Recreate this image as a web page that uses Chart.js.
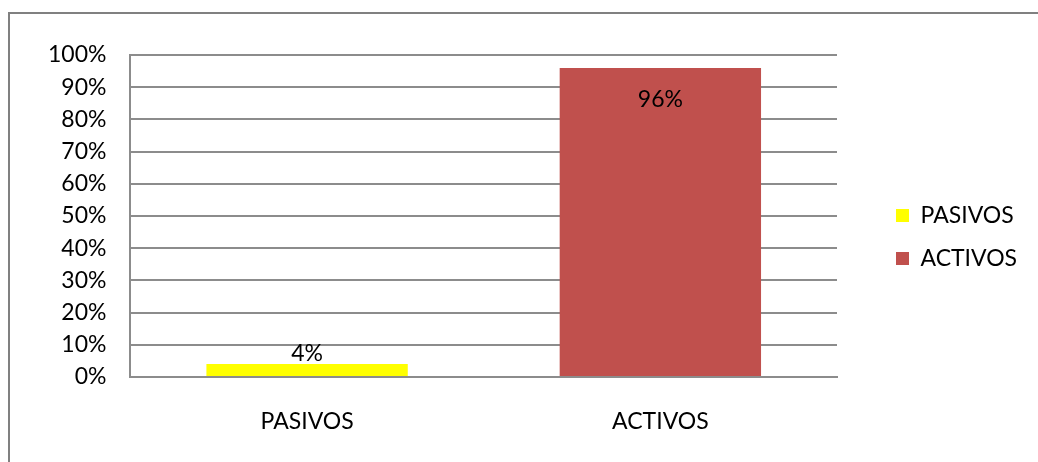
<!DOCTYPE html>
<html>
<head>
<meta charset="utf-8">
<script src="https://cdn.jsdelivr.net/npm/chart.js@4/dist/chart.umd.min.js"></script>
<style>
  html, body { margin: 0; padding: 0; background: #fff; overflow: hidden; }
  #frame {
    position: absolute; left: 8px; top: 12px; width: 1100px; height: 500px;
    border-left: 2px solid #808080; border-top: 2px solid #808080;
  }
  #wrap { position: absolute; left: 0; top: 0; width: 1038px; height: 462px; }
</style>
</head>
<body>
<div id="frame"></div>
<div id="wrap"><canvas id="chart"></canvas></div>
<script>
// Data
const categories = ["PASIVOS", "ACTIVOS"];
const percentValues = [4, 96];
const barColors = ["#FFFF00", "#C0504D"];
const yTicks = [0, 10, 20, 30, 40, 50, 60, 70, 80, 90, 100];

const FONT = { family: "Lato, 'Liberation Sans', sans-serif", size: 23 };
const gridColor = "#8c8c8c";

// Value labels: above the short bar, inside the top of the tall one
const valueLabels = {
  id: "valueLabels",
  afterDatasetsDraw(chart) {
    const ctx = chart.ctx;
    const meta = chart.getDatasetMeta(0);
    ctx.save();
    ctx.font = `${FONT.size}px ${FONT.family}`;
    ctx.fillStyle = "#000";
    ctx.textAlign = "center";
    ctx.textBaseline = "middle";
    meta.data.forEach((bar, i) => {
      const v = percentValues[i];
      const y = v > 50 ? bar.y + 32 : bar.y - 11;
      ctx.fillText(v + "%", bar.x, y);
    });
    ctx.restore();
  }
};

// Legend box: fixed width, content placed like the Excel legend
const legendPlacement = {
  id: "legendPlacement",
  beforeInit(chart) {
    const origFit = chart.legend.fit;
    chart.legend.fit = function () {
      origFit.call(this);
      this.width = 181;
    };
  },
  afterLayout(chart) {
    const lg = chart.legend;
    const w = lg.right - lg.left;
    lg.left = chart.chartArea.right + 39;
    lg.right = lg.left + w;
    lg.top = 55;
    lg.bottom = 419;
    lg.height = lg.bottom - lg.top;
  }
};

new Chart(document.getElementById("chart"), {
  type: "bar",
  data: {
    labels: categories,
    datasets: [{
      data: percentValues,
      backgroundColor: barColors,
      borderWidth: 0,
      categoryPercentage: 1,
      barPercentage: 0.57
    }]
  },
  options: {
    responsive: true,
    maintainAspectRatio: false,
    animation: false,
    events: [],
    layout: { padding: { top: 55, bottom: 18, left: 24, right: 20 } },
    scales: {
      x: {
        grid: { display: false, drawTicks: false },
        border: { display: true, color: gridColor, width: 2 },
        ticks: { color: "#000", font: FONT, padding: 31 },
        afterFit(scale) { scale.height = 67; }
      },
      y: {
        min: 0,
        max: 100,
        afterBuildTicks(scale) { scale.ticks = yTicks.map(v => ({ value: v })); },
        grid: { color: gridColor, lineWidth: 2, drawTicks: false },
        border: { display: true, color: gridColor, width: 2 },
        ticks: { color: "#000", font: FONT, padding: 24, autoSkip: false, callback: v => v + "%" }
      }
    },
    plugins: {
      tooltip: { enabled: false },
      legend: {
        position: "right",
        labels: {
          color: "#000",
          font: FONT,
          boxWidth: 13,
          boxHeight: 13,
          padding: 20,
          generateLabels() {
            return categories.map((c, i) => ({
              text: c,
              fillStyle: barColors[i],
              strokeStyle: barColors[i],
              lineWidth: 0,
              fontColor: "#000",
              index: i
            }));
          }
        }
      }
    }
  },
  plugins: [valueLabels, legendPlacement]
});
</script>
</body>
</html>
